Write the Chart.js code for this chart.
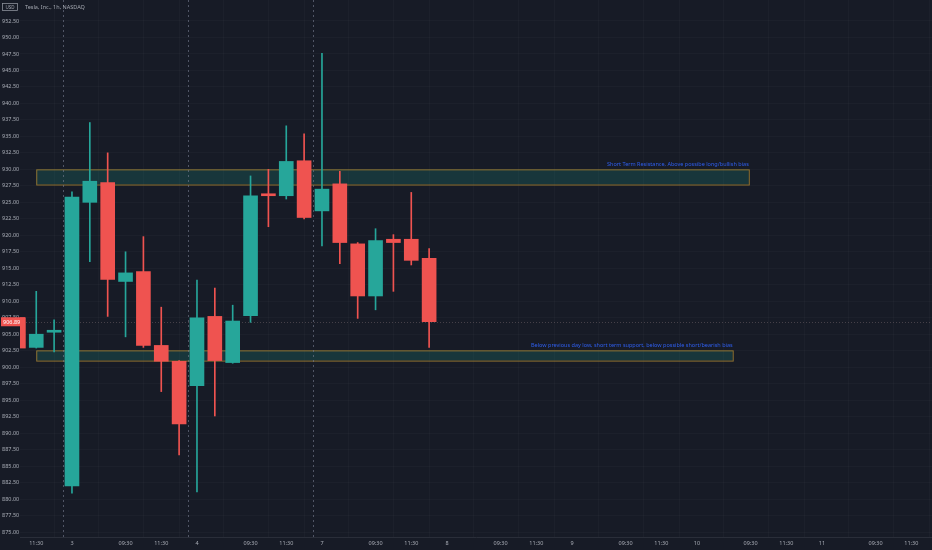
<!DOCTYPE html>
<html>
<head>
<meta charset="utf-8">
<script src="https://cdn.jsdelivr.net/npm/chart.js@4.4.1/dist/chart.umd.min.js"></script>
<style>
  html, body { margin: 0; padding: 0; background: #171b26; }
  #wrap { width: 932px; height: 550px; }
</style>
</head>
<body>
<div id="wrap"><canvas id="chart" width="932" height="550"></canvas></div>
<script>
// 1h bars, slot 0 = first bar of the 3rd
const slots  = [-3, -2, -1, 0, 1, 2, 3, 4, 5, 6, 7, 8, 9, 10, 11, 12, 13, 14, 15, 16, 17, 18, 19, 20];
const opens  = [907.5, 903.0, 905.3, 882.0, 925.0, 928.0, 913.0, 914.5, 903.3, 900.9, 897.2, 907.7, 900.7, 907.8, 926.3, 926.0, 931.3, 923.7, 927.8, 918.7, 910.8, 919.4, 919.4, 916.5];
const highs  = [907.7, 911.5, 907.2, 926.6, 937.1, 932.5, 917.5, 919.8, 909.1, 901.0, 913.2, 912.0, 909.4, 929.0, 930.0, 936.6, 935.4, 947.6, 929.7, 918.9, 921.0, 920.1, 926.5, 918.0];
const lows   = [902.5, 902.9, 902.3, 880.9, 916.0, 907.7, 904.6, 903.0, 896.3, 886.7, 881.1, 892.6, 900.6, 906.8, 921.3, 925.5, 922.5, 918.4, 915.7, 907.4, 908.7, 911.5, 915.5, 903.0];
const closes = [902.9, 905.0, 905.6, 925.8, 928.2, 913.3, 914.3, 903.3, 900.9, 891.4, 907.5, 901.0, 907.0, 926.0, 926.0, 931.2, 922.7, 927.0, 918.9, 910.8, 919.2, 918.9, 916.2, 906.89];

// time axis
const tickSlots  = [-2, 0, 3, 5, 7, 10, 12, 14, 17, 19, 21, 24, 26, 28, 31, 33, 35, 38, 40, 42, 45, 47];
const tickLabels = ['11:30', '3', '09:30', '11:30', '4', '09:30', '11:30', '7', '09:30', '11:30', '8', '09:30', '11:30', '9', '09:30', '11:30', '10', '09:30', '11:30', '11', '09:30', '11:30'];
const priceTicks = [875, 877.5, 880, 882.5, 885, 887.5, 890, 892.5, 895, 897.5, 900, 902.5, 905, 907.5, 910, 912.5, 915, 917.5, 920, 922.5, 925, 927.5, 930, 932.5, 935, 937.5, 940, 942.5, 945, 947.5, 950, 952.5];
const sessionBreaks = [-0.5, 6.5, 13.5];

// drawn zones
const zoneFrom   = [-2, -2];
const zoneTo     = [37.9, 37.0];
const zoneTop    = [930.0, 902.55];
const zoneBottom = [927.7, 901.0];
const zoneTexts  = [
  'Short Term Resistance, Above possibe long/bullish bias',
  'Below previous day low, short term support, below possible short/bearish bias',
];

const UP = '#26a69a';
const DOWN = '#ef5350';
const FONT = '"Noto Sans", sans-serif';

const colors = opens.map((o, i) => (closes[i] >= o ? UP : DOWN));
const bodies = slots.map((s, i) => ({ x: s, y: [opens[i], closes[i]] }));
const wicks = slots.map((s, i) => ({ x: s, y: [lows[i], highs[i]] }));
const lastPrice = closes[closes.length - 1];

const decorations = {
  id: 'decorations',
  beforeDraw(chart) {
    const { ctx } = chart;
    ctx.save();
    ctx.fillStyle = '#171b26';
    ctx.fillRect(0, 0, chart.width, chart.height);
    ctx.restore();
  },
  beforeDatasetsDraw(chart) {
    const { ctx, chartArea, scales: { x, y } } = chart;
    ctx.save();
    ctx.beginPath();
    ctx.rect(chartArea.left, chartArea.top, chartArea.right - chartArea.left, chartArea.bottom - chartArea.top);
    ctx.clip();

    // zones
    zoneFrom.forEach((from, i) => {
      const x1 = x.getPixelForValue(from);
      const x2 = x.getPixelForValue(zoneTo[i]);
      const y1 = y.getPixelForValue(zoneTop[i]);
      const y2 = y.getPixelForValue(zoneBottom[i]);
      ctx.fillStyle = 'rgba(30,150,135,0.22)';
      ctx.fillRect(x1, y1, x2 - x1, y2 - y1);
      ctx.strokeStyle = '#8f7130';
      ctx.lineWidth = 1;
      ctx.strokeRect(x1 + 0.5, y1 + 0.5, x2 - x1, y2 - y1);
      ctx.fillStyle = '#2f5ff0';
      ctx.font = '5.5px ' + FONT;
      ctx.textAlign = 'right';
      ctx.textBaseline = 'bottom';
      ctx.fillText(zoneTexts[i], x2, y1 - 2);
    });

    // session breaks
    ctx.strokeStyle = 'rgba(120,126,145,0.6)';
    ctx.setLineDash([2, 3]);
    sessionBreaks.forEach((b) => {
      const px = Math.round(x.getPixelForValue(b)) + 0.5;
      ctx.beginPath();
      ctx.moveTo(px, chartArea.top);
      ctx.lineTo(px, chartArea.bottom);
      ctx.stroke();
    });

    // last price line
    const py = Math.round(y.getPixelForValue(lastPrice)) + 0.5;
    ctx.strokeStyle = 'rgba(140,120,125,0.4)';
    ctx.setLineDash([1, 2]);
    ctx.beginPath();
    ctx.moveTo(chartArea.left, py);
    ctx.lineTo(chartArea.right, py);
    ctx.stroke();
    ctx.restore();
  },
  afterDraw(chart) {
    const { ctx, scales: { y } } = chart;
    ctx.save();
    // title
    ctx.font = '5.5px ' + FONT;
    ctx.fillStyle = '#a3a7b0';
    ctx.textBaseline = 'middle';
    ctx.textAlign = 'left';
    ctx.fillText('Tesla, Inc., 1h, NASDAQ', 25, 7);
    ctx.strokeStyle = '#8a8e98';
    ctx.lineWidth = 0.8;
    ctx.strokeRect(2.5, 3.5, 15, 7);
    ctx.font = '4.5px ' + FONT;
    ctx.textAlign = 'center';
    ctx.fillText('USD', 10, 7.3);

    // last price badge
    const py = y.getPixelForValue(lastPrice);
    ctx.fillStyle = DOWN;
    ctx.fillRect(1, py - 4.5, 24, 9);
    ctx.fillStyle = '#ffffff';
    ctx.font = '5.5px ' + FONT;
    ctx.textAlign = 'left';
    ctx.fillText(lastPrice.toFixed(2), 3, py + 0.3);
    ctx.restore();
  },
};

new Chart(document.getElementById('chart'), {
  type: 'bar',
  data: {
    datasets: [
      {
        data: bodies,
        backgroundColor: colors,
        borderWidth: 0,
        barThickness: 14,
        minBarLength: 1.5,
        grouped: false,
        order: 1,
      },
      {
        data: wicks,
        backgroundColor: colors,
        borderWidth: 0,
        barThickness: 1,
        grouped: false,
        order: 2,
      },
    ],
  },
  options: {
    responsive: false,
    animation: false,
    layout: { padding: { left: 2, right: 0, top: 0, bottom: 0 } },
    plugins: {
      legend: { display: false },
      tooltip: { enabled: false },
    },
    scales: {
      x: {
        type: 'linear',
        offset: false,
        min: -2.91,
        max: 48.16,
        grid: { color: 'rgba(255,255,255,0.025)', drawTicks: false },
        border: { color: '#2a2e39' },
        afterBuildTicks: (scale) => {
          scale.ticks = tickSlots.map((v) => ({ value: v }));
        },
        afterFit: (scale) => {
          scale.height = 13;
          scale.paddingLeft = 0;
          scale.paddingRight = 0;
        },
        ticks: {
          autoSkip: false,
          maxRotation: 0,
          padding: 3,
          color: '#a9adb6',
          font: { family: FONT, size: 5.5 },
          callback: (value) => tickLabels[tickSlots.indexOf(value)],
        },
      },
      y: {
        position: 'left',
        min: 874.25,
        max: 955.68,
        grid: { color: 'rgba(255,255,255,0.025)', drawTicks: false },
        border: { display: false },
        afterBuildTicks: (scale) => {
          scale.ticks = priceTicks.map((v) => ({ value: v }));
        },
        afterFit: (scale) => {
          scale.width = 18;
          scale.paddingTop = 0;
          scale.paddingBottom = 0;
        },
        ticks: {
          crossAlign: 'far',
          padding: 0,
          color: '#a9adb6',
          font: { family: FONT, size: 5.5 },
          callback: (value) => value.toFixed(2),
        },
      },
    },
  },
  plugins: [decorations],
});
</script>
</body>
</html>
